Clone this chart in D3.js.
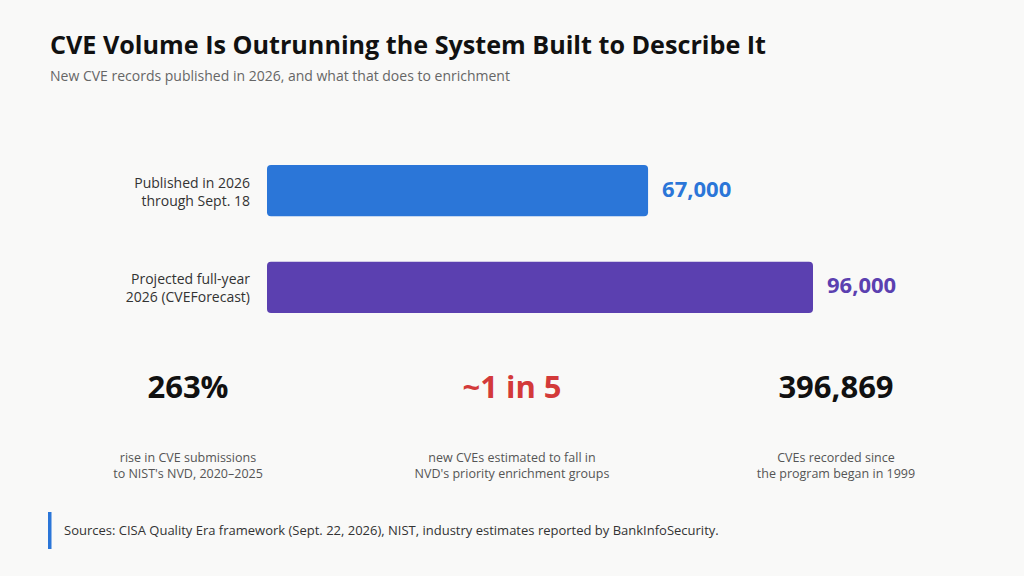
<!DOCTYPE html>
<html><head><meta charset="utf-8">
<script src="https://cdn.jsdelivr.net/npm/d3@7"></script>
<style>
html,body{margin:0;padding:0;background:#f9f9f8;}
svg{display:block;font-family:"Segoe UI","Open Sans","Noto Sans",sans-serif;}
</style></head><body>
<svg id="c" width="1024" height="576"></svg>
<script>
const categories = [["Published in 2026","through Sept. 18"],["Projected full-year","2026 (CVEForecast)"]];
const values = [67000, 96000];
const valueLabels = ["67,000","96,000"];
const barColors = ["#2b76d8","#5b40b0"];
const statValues = ["263%","~1 in 5","396,869"];
const statColors = ["#111111","#d33a3a","#111111"];
const statDescs = [["rise in CVE submissions","to NIST's NVD, 2020–2025"],["new CVEs estimated to fall in","NVD's priority enrichment groups"],["CVEs recorded since","the program began in 1999"]];

const svg = d3.select("#c");
svg.append("rect").attr("width",1024).attr("height",576).attr("fill","#f9f9f8");

svg.append("text").attr("x",50).attr("y",54).attr("font-size",25).attr("font-weight",700).attr("fill","#111")
  .attr("textLength",716).attr("lengthAdjust","spacingAndGlyphs")
  .text("CVE Volume Is Outrunning the System Built to Describe It");
svg.append("text").attr("x",50).attr("y",81).attr("font-size",14).attr("fill","#666")
  .text("New CVE records published in 2026, and what that does to enrichment");

const x = d3.scaleLinear().domain([0,96000]).range([267,813]);
const yb = d3.scaleBand().domain(d3.range(values.length)).range([165,313]).paddingInner(46/98);

const g = svg.append("g");
g.selectAll("rect.bar").data(values).join("rect").attr("class","bar")
  .attr("x",x(0)).attr("y",(d,i)=>yb(i)).attr("width",d=>x(d)-x(0)).attr("height",yb.bandwidth())
  .attr("rx",4).attr("fill",(d,i)=>barColors[i]);
g.selectAll("text.val").data(values).join("text").attr("class","val")
  .attr("x",d=>x(d)+14).attr("y",(d,i)=>yb(i)+yb.bandwidth()/2+6)
  .attr("font-size",22).attr("font-weight",700).attr("fill",(d,i)=>barColors[i])
  .text((d,i)=>valueLabels[i]);
const cl = g.selectAll("text.cat").data(categories).join("text").attr("class","cat")
  .attr("text-anchor","end").attr("font-size",14).attr("fill","#333");
cl.each(function(lines,i){
  const t=d3.select(this);
  lines.forEach((l,k)=>t.append("tspan").attr("x",250).attr("y",yb(i)+yb.bandwidth()/2-3+k*18).text(l));
});

const sx = d3.scalePoint().domain(d3.range(3)).range([188,836]);
svg.selectAll("text.stat").data(statValues).join("text").attr("class","stat")
  .attr("x",(d,i)=>sx(i)).attr("y",398).attr("text-anchor","middle")
  .attr("font-size",31).attr("font-weight",700).attr("fill",(d,i)=>statColors[i]).text(d=>d);
svg.selectAll("text.desc").data(statDescs).join("text").attr("class","desc")
  .attr("text-anchor","middle").attr("font-size",12.5).attr("fill","#555")
  .each(function(lines,i){
    const t=d3.select(this);
    lines.forEach((l,k)=>t.append("tspan").attr("x",sx(i)).attr("y",462+k*16).text(l));
  });

svg.append("rect").attr("x",48).attr("y",512).attr("width",3.5).attr("height",37).attr("fill","#2b76d8");
svg.append("text").attr("x",64).attr("y",535).attr("font-size",13).attr("fill","#333")
  .text("Sources: CISA Quality Era framework (Sept. 22, 2026), NIST, industry estimates reported by BankInfoSecurity.");
</script>
</body></html>
